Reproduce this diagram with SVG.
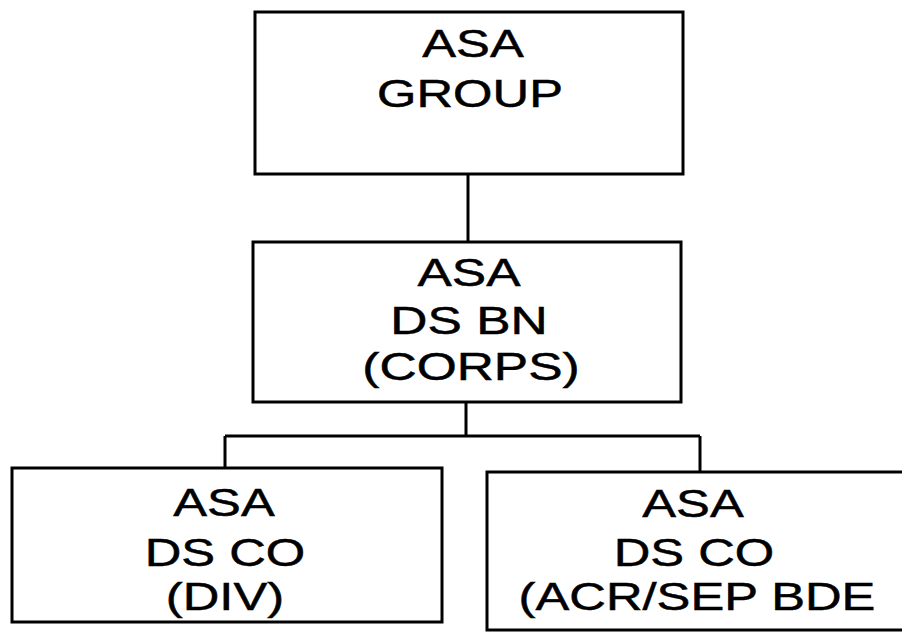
<svg xmlns="http://www.w3.org/2000/svg" width="902" height="632" viewBox="0 0 902 632">
<style>
.box{fill:none;stroke:#000;stroke-width:3}
.ln{fill:none;stroke:#000;stroke-width:3}
text{font-family:"Liberation Sans",Arial,sans-serif;font-size:39px;fill:#000;stroke:#000;stroke-width:0.5;text-anchor:middle}
</style>
<rect width="902" height="632" fill="#fff"/>
<g id="connectors">
<path class="ln" d="M468,174 V242"/>
<path class="ln" d="M466,402 V436 M225,436 H700 M225,436 V468 M700,436 V472"/>
</g>
<g id="group">
<rect class="box" x="255" y="12" width="428" height="162"/>
<text transform="translate(473,57) scale(1.3,1)">ASA</text>
<text transform="translate(470,107) scale(1.3,1)">GROUP</text>
</g>
<g id="bn">
<rect class="box" x="253" y="242" width="428" height="160"/>
<text transform="translate(469,286) scale(1.32,1)">ASA</text>
<text transform="translate(469,334) scale(1.32,1)">DS BN</text>
<text transform="translate(471,380) scale(1.32,1)">(CORPS)</text>
</g>
<g id="div">
<rect class="box" x="12" y="468" width="430" height="154"/>
<text transform="translate(224,516) scale(1.3,1)">ASA</text>
<text transform="translate(225,566) scale(1.3,1)">DS CO</text>
<text transform="translate(225,610) scale(1.3,1)">(DIV)</text>
</g>
<g id="acr">
<rect class="box" x="487" y="472" width="430" height="158"/>
<text transform="translate(693,517) scale(1.3,1)">ASA</text>
<text transform="translate(694,566) scale(1.3,1)">DS CO</text>
<text transform="translate(697,610) scale(1.3,1)">(ACR/SEP BDE</text>
</g>
</svg>
